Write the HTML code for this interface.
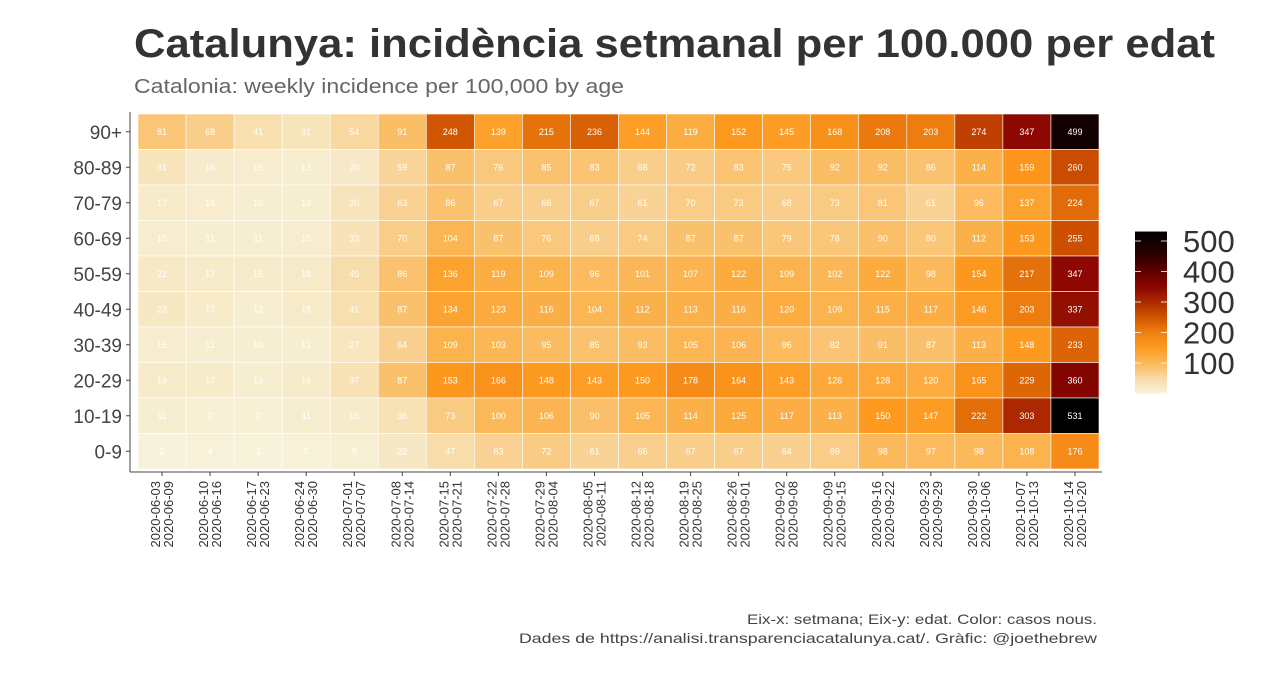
<!DOCTYPE html>
<html><head><meta charset="utf-8"><style>
html,body{margin:0;padding:0;background:#fff;}
svg{display:block;font-family:"Liberation Sans",sans-serif;}
</style></head><body>
<svg id="c" width="1280" height="674" viewBox="0 0 1280 674">
<text x="134" y="57" font-size="40" font-weight="bold" fill="#333" textLength="1081" lengthAdjust="spacingAndGlyphs">Catalunya: incidència setmanal per 100.000 per edat</text>
<text x="134" y="93" font-size="20" fill="#666" textLength="490" lengthAdjust="spacingAndGlyphs">Catalonia: weekly incidence per 100,000 by age</text>
<text x="747" y="624" font-size="14" fill="#444" textLength="350" lengthAdjust="spacingAndGlyphs">Eix-x: setmana; Eix-y: edat. Color: casos nous.</text>
<text x="519" y="643" font-size="14" fill="#444" textLength="578" lengthAdjust="spacingAndGlyphs">Dades de https://analisi.transparenciacatalunya.cat/. Gràfic: @joethebrew</text>
<g id="cells"></g>
<g id="axes"></g>
<g id="legend"></g>
</svg>
<script>
const weeks=["2020-06-03|2020-06-09","2020-06-10|2020-06-16","2020-06-17|2020-06-23","2020-06-24|2020-06-30","2020-07-01|2020-07-07","2020-07-08|2020-07-14","2020-07-15|2020-07-21","2020-07-22|2020-07-28","2020-07-29|2020-08-04","2020-08-05|2020-08-11","2020-08-12|2020-08-18","2020-08-19|2020-08-25","2020-08-26|2020-09-01","2020-09-02|2020-09-08","2020-09-09|2020-09-15","2020-09-16|2020-09-22","2020-09-23|2020-09-29","2020-09-30|2020-10-06","2020-10-07|2020-10-13","2020-10-14|2020-10-20"];
const ages=["90+","80-89","70-79","60-69","50-59","40-49","30-39","20-29","10-19","0-9"];
const v90=[81,68,41,31,54,91,248,139,215,236,144,119,152,145,168,208,203,274,347,499];
const v80=[31,16,15,13,20,59,87,76,85,83,68,72,83,75,92,92,86,114,159,260];
const v70=[17,14,10,13,30,63,86,67,66,67,61,70,73,68,73,81,61,96,137,224];
const v60=[15,11,11,15,33,70,104,87,76,68,74,87,87,79,78,90,80,112,153,255];
const v50=[21,17,16,18,45,86,136,119,109,96,101,107,122,109,102,122,98,154,217,347];
const v40=[23,17,12,18,41,87,134,123,116,104,112,113,116,120,109,115,117,146,203,337];
const v30=[15,11,10,13,27,64,109,103,95,85,93,105,106,96,82,91,87,113,148,233];
const v20=[18,17,13,16,37,87,153,166,148,143,150,178,164,143,126,128,120,165,229,360];
const v10=[11,7,7,11,16,36,73,100,106,90,105,114,125,117,113,150,147,222,303,531];
const v0=[2,4,3,5,8,22,47,63,72,61,66,67,67,64,69,98,97,98,108,176];
const rows=[v90,v80,v70,v60,v50,v40,v30,v20,v10,v0];
const legendTicks=[100,200,300,400,500];
const NS="http://www.w3.org/2000/svg";
const X0=138,X1=1099,Y0=114,Y1=469;
const cw=(X1-X0)/weeks.length, ch=(Y1-Y0)/ages.length;
const xs=i=>X0+i*cw, ys=j=>Y0+j*ch;
const stops=[[0,[247,243,221]],[50,[248,218,166]],[100,[251,184,88]],[150,[253,154,31]],[200,[240,128,16]],[250,[208,84,0]],[300,[173,42,0]],[350,[138,6,0]],[400,[96,0,0]],[450,[48,0,0]],[531,[0,0,0]]];
function col(v){for(let i=1;i<stops.length;i++){if(v<=stops[i][0]){const a=stops[i-1],b=stops[i],t=(v-a[0])/(b[0]-a[0]);return "rgb("+a[1].map((c,k)=>Math.round(c+(b[1][k]-c)*t)).join(",")+")";}}return "rgb(0,0,0)";}
function mk(t,a,p){const e=document.createElementNS(NS,t);for(const k in a)e.setAttribute(k,a[k]);p.appendChild(e);return e;}
const cells=document.getElementById('cells');
rows.forEach((r,j)=>r.forEach((v,i)=>{
 const rc=mk('rect',{x:xs(i),y:ys(j),width:cw,height:ch,fill:col(v),stroke:'#fff','stroke-width':0.6},cells);
 
 
 const t=mk('text',{x:xs(i)+cw/2,y:ys(j)+ch/2+3,'font-size':9,fill:'#fff','text-anchor':'middle'},cells);
 
 
 t.textContent=v;
}));
const ax=document.getElementById('axes');
mk('line',{x1:130,y1:112,x2:130,y2:472,stroke:'#444','stroke-width':1},ax);
mk('line',{x1:130,y1:472,x2:1102,y2:472,stroke:'#444','stroke-width':1},ax);
ages.forEach((a,j)=>{
 const y=ys(j)+ch/2;
 mk('line',{x1:126,y1:y,x2:130,y2:y,stroke:'#444'},ax);
 const t=mk('text',{x:122,y:y+7,'font-size':19,fill:'#444','text-anchor':'end'},ax);
 
 
 t.textContent=a;
});
weeks.forEach((w,i)=>{
 const x=xs(i)+cw/2;
 mk('line',{x1:x,y1:472,x2:x,y2:476,stroke:'#444'},ax);
 const p=w.split('|');
 const t=mk('text',{transform:'translate('+(x-2)+',481) rotate(-90)','font-size':13,fill:'#333','text-anchor':'end'},ax);
 
 
 const s1=mk('tspan',{x:0,y:0},t);s1.textContent=p[0];
 const s2=mk('tspan',{x:0,y:13},t);s2.textContent=p[1];
});
const lg=document.getElementById('legend');
const LB=393.5, LS=0.305;
const defs=mk('defs',{},lg);
const gr=mk('linearGradient',{id:'lgr',x1:0,y1:1,x2:0,y2:0},defs);
stops.forEach(s=>mk('stop',{offset:s[0]/531,'stop-color':col(s[0])},gr));
mk('rect',{x:1135,y:LB-531*LS,width:32,height:531*LS,fill:'url(#lgr)'},lg);
legendTicks.forEach(v=>{
 const y=LB-v*LS;
 mk('line',{x1:1135,y1:y,x2:1141,y2:y,stroke:'#fff','stroke-width':0.8},lg);
 mk('line',{x1:1161,y1:y,x2:1167,y2:y,stroke:'#fff','stroke-width':0.8},lg);
 const t=mk('text',{x:1183,y:y+11,'font-size':31,fill:'#333'},lg);
 
 
 t.textContent=v;
});
</script>
</body></html>
